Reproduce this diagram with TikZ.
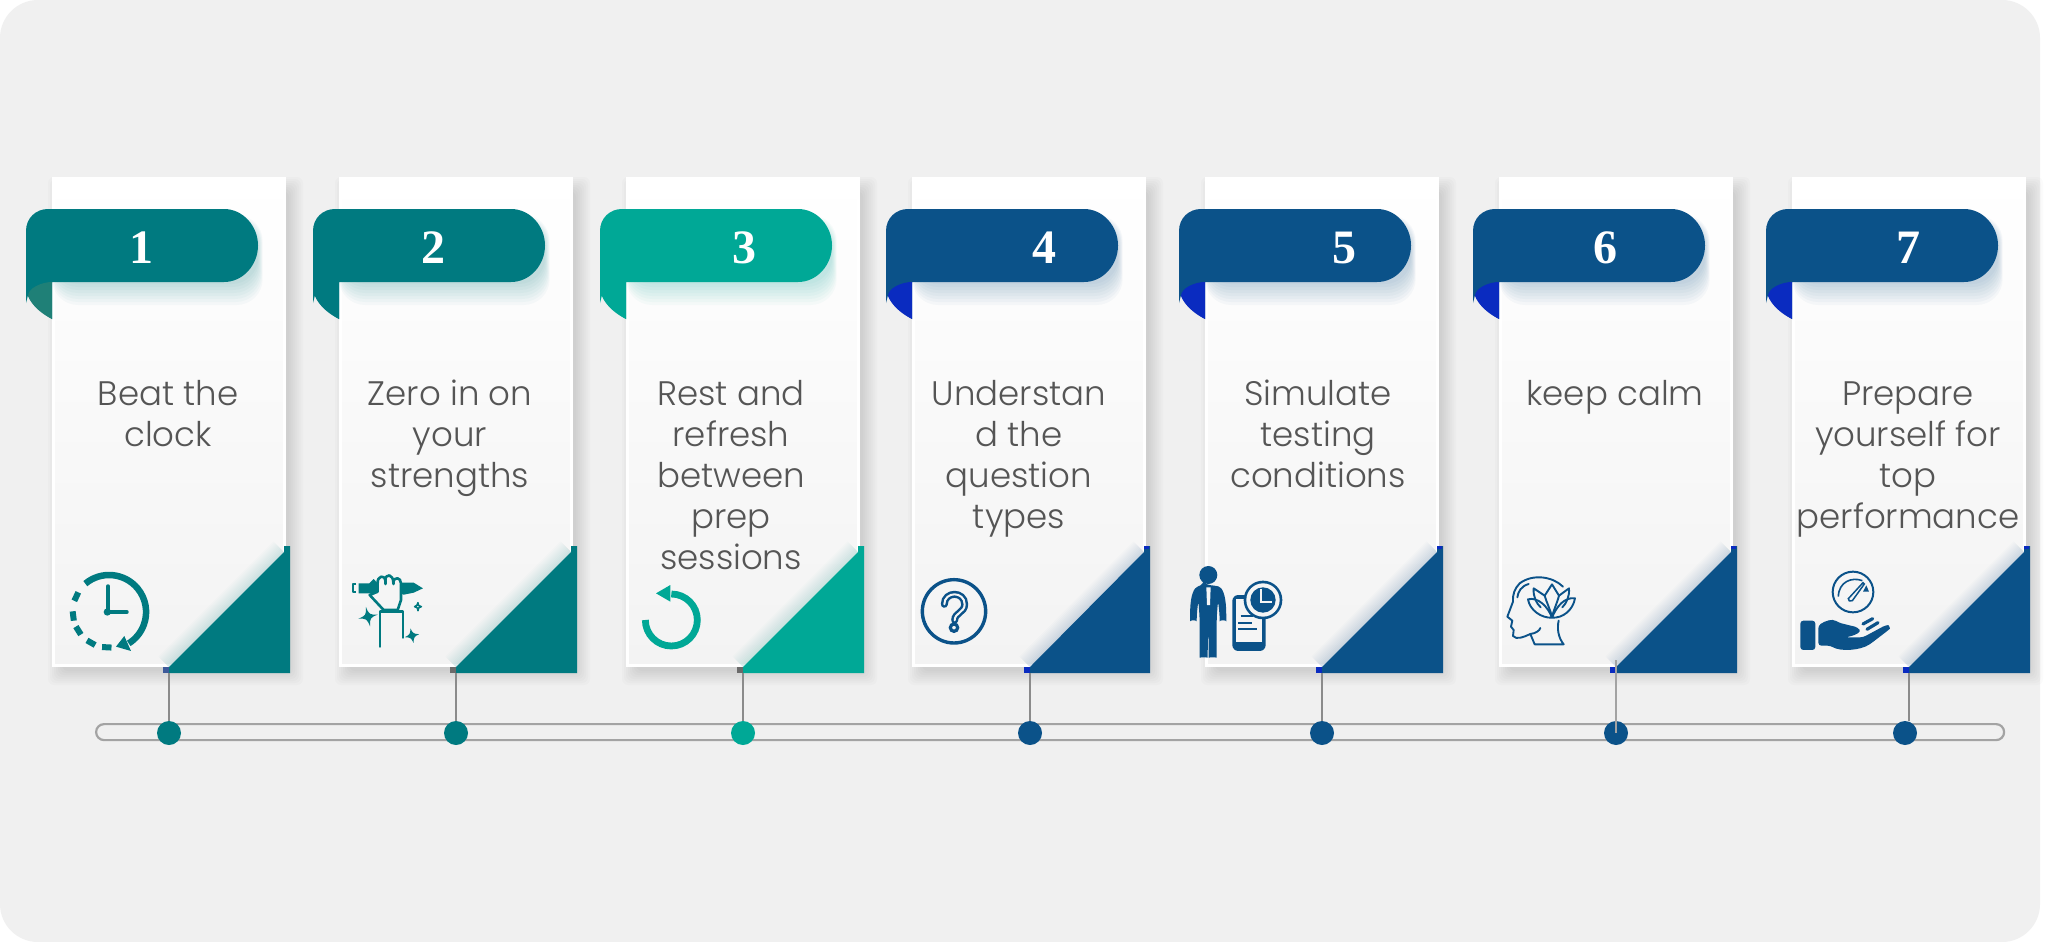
\documentclass[tikz,border=0pt]{standalone}
\usepackage{fontspec}
\setmainfont{Poppins}[UprightFont=* Light]
\newfontfamily\numfont{Liberation Serif}[UprightFont=* Bold]
\definecolor{bgc}{HTML}{F0F0F0}
\definecolor{teal}{HTML}{007A80}
\definecolor{sea}{HTML}{00A896}
\definecolor{navy}{HTML}{0B5289}
\definecolor{foldteal}{HTML}{1F8077}
\definecolor{vivid}{HTML}{0A2BC0}
\definecolor{slatesq}{HTML}{3D5A9A}
\definecolor{graysq}{HTML}{6B6B6B}
\definecolor{txt}{HTML}{555555}
\definecolor{linec}{HTML}{A3A3A3}
\definecolor{iconbg}{HTML}{F5F5F5}
\definecolor{cardlow}{HTML}{F3F3F3}
\tikzset{
  zm/.style 2 args={shift={(#1,#2)},x=.3333pt,y=-.3333pt},
  cardbox/.style={rectangle,draw=white,line width=2.5pt,top color=white,bottom color=cardlow,minimum width=231pt,minimum height=487pt,inner sep=0pt,anchor=north west},
  numlabel/.style={font=\numfont\fontsize{48}{48}\selectfont,text=white,inner sep=0pt},
  stepsub/.style={font=\fontsize{34}{41}\selectfont,text=txt,align=center,anchor=north,inner sep=0pt},
  dotnode/.style={circle,minimum size=24pt,inner sep=0pt},
  ticknode/.style={rectangle,minimum size=0pt,inner sep=0pt},
  conn/.style={draw=linec!85!black,line width=1.2pt},
  thinicon/.style={line cap=round,line join=round},
}
\newcommand{\fourstar}[4]{% cx cy r rot (zoom units)
  \begin{scope}[shift={(#1,#2)},rotate=#4]
  \path[fill,even odd rule] (0,-#3) .. controls (4,-6) and (6,-4) .. (#3,0) .. controls (6,4) and (4,6) .. (0,#3) .. controls (-4,6) and (-6,4) .. (-#3,0) .. controls (-6,-4) and (-4,-6) .. (0,-#3) -- cycle;
  \end{scope}}
\begin{document}
\begin{tikzpicture}[x=1pt,y=-1pt]
\useasboundingbox (0,0) rectangle (2048,942);
\fill[white] (0,0) rectangle (2048,942);
\fill[bgc,rounded corners=38pt] (0,0) rectangle (2040,942);
\node[rectangle,draw=linec,line width=2.2pt,rounded corners=8pt,minimum width=1908pt,minimum height=16pt,inner sep=0pt,anchor=north west] (rail) at (95,723) {};
\foreach \i/\L/\K/\dx/\numx/\tx/\col/\fold/\sq/\label in {
 1/52/169/169/141/168/teal/foldteal/slatesq/{Beat the\\clock},
 2/339/456/456/433/450/teal/teal/graysq/{Zero in on\\your\\strengths},
 3/626/743/743/744/731/sea/sea/graysq/{Rest and\\refresh\\between\\prep\\sessions},
 4/912/1030/1030/1044/1019/navy/vivid/vivid/{Understan\\d the\\question\\types},
 5/1205/1322/1322/1344/1318/navy/vivid/vivid/{Simulate\\testing\\conditions},
 6/1499/1616/1616/1605/1615/navy/vivid/vivid/{keep calm},
 7/1792/1909/1905/1908/1908/navy/vivid/vivid/{Prepare\\yourself for\\top\\performance}}
{
  \pgfmathsetmacro\R{\L+232}
  \pgfmathsetmacro\rl{\L-26}
  \pgfmathsetmacro\rr{\L+206}
  % card shadow
  \foreach \k in {0,2,...,14}{
    \fill[black,fill opacity=.016,rounded corners=6pt] ({\L+10-\k},{177+14-\k}) rectangle ({\R+5+\k},{666+5+\k});
  }
  \node[cardbox] (card\i) at (\L,177) {};
  % soft edge along the diagonal
  \begin{scope}
    \clip (\L,177) rectangle (\R,666);
    \foreach \w in {3,6,...,30}{
      \draw[\col,opacity=.016,line width=\w pt] (\K,667) -- (\R,552);
    }
  \end{scope}
  % corner triangle
  \fill[\sq] ({\K-6},667) rectangle (\K,673);
  \fill[\col] (\R,552) -- (\R,546) -- ({\R+6},546) -- ({\R+6},673) -- (\K,673) -- (\K,667) -- cycle;
  \ifnum\i>3 \fill[\sq] (\R,546) rectangle ({\R+5},549); \fi
  % ribbon shadow
  \foreach \k in {0,2,...,14}{
    \fill[\col,fill opacity=.03,rounded corners=26pt] ({\L},{222-\k/2}) rectangle ({\rr+\k/3},{284+\k*1.5});
  }
  % ribbon
  \fill[\col] (\rl,231) .. controls (\rl,218) and ({\rl+10},209) .. ({\rl+22},209) -- ({\rr-34},209)
     .. controls ({\rr-15},209) and (\rr,226) .. (\rr,245.5) .. controls (\rr,265) and ({\rr-15},282) .. ({\rr-34},282)
     -- (\L,282) -- (\L,319) .. controls ({\L-10},313) and ({\L-20},305) .. ({\rl+2},295) -- (\rl,303) -- cycle;
  \fill[\fold] (\L,282) .. controls ({\L-10},282) and ({\rl+2},288) .. ({\rl+2},296) .. controls ({\rl+6},306) and ({\L-10},314) .. (\L,319) -- cycle;
  \node[numlabel] (num\i) at (\numx,254) {\strut\smash{\i}};
  \node[stepsub] (lbl\i) at (\tx,377) {\rule{0pt}{28pt}\label};
  \node[ticknode] (tick\i) at (\K,673) {};
  \node[dotnode,fill=\col] (dot\i) at (\dx,733) {};
}
\foreach \i in {1,...,5,7}{ \draw[conn] (tick\i) -- (tick\i |- dot\i.north); }
\coordinate (tick6up) at (1616,660);
\draw[conn,linec] (tick6up) -- (dot6.center);

% Icon 1: clock
\begin{scope}[zm={41}{531},teal]
  \draw[line width=6.5pt] (133,158) arc[start angle=130,end angle=-58,radius=111,y radius=-111];
  \fill (250,315) -- (270,360) -- (225,347) -- cycle;
  \foreach \a in {155,187,212,240.5,267}{
    \draw[line width=6pt] ({203+108*cos(\a-7.5)},{242-108*sin(\a-7.5)}) -- ({203+108*cos(\a+7.5)},{242-108*sin(\a+7.5)});
  }
  \draw[line width=3.5pt,line cap=round] (201,165) -- (201,243) -- (258,243);
  \fill (199,243) circle[radius=11];
\end{scope}

% Icon 2: raised hand with brush
\begin{scope}[zm={332}{550},teal,thinicon]
  \draw[line width=2pt,line cap=butt] (72,102) -- (62,102) -- (62,127) -- (72,127);
  \fill (80,100) -- (112,100) -- (125,87) -- (137,100) -- (137,130) -- (80,130) -- cycle;
  \fill (205,98) -- (245,98) -- (273,115) -- (245,128) -- (215,134) -- (205,130) -- cycle;
  \draw[line width=2.6pt,fill=iconbg] (113,135) -- (155,180) -- (197,180) -- (207,150) -- (207,100)
     .. controls (207,82) and (186,78) .. (184,98) .. controls (184,72) and (160,68) .. (160,92)
     .. controls (158,72) and (135,78) .. (137,100) -- (137,125) -- cycle;
  \draw[line width=2.6pt] (160,92) -- (160,102) (184,98) -- (184,102);
  \draw[line width=2.6pt] (144,290) -- (144,185) -- (213,185) -- (213,263);
  \fourstar{108}{200}{30}{12}
  \fourstar{240}{257}{22}{12}
  \draw[line width=1.6pt] (258,158) .. controls (258,166) .. (268,170) .. controls (260,172) .. (258,182) .. controls (256,172) .. (248,170) .. controls (256,166) .. cycle;
\end{scope}

% Icon 3: restart arrow
\begin{scope}[zm={632}{560},sea]
  \draw[line width=6.8pt] (40,180) arc[start angle=180,end angle=450,radius=78,y radius=-78];
  \fill (115,75) -- (72,100) -- (115,125) -- cycle;
\end{scope}

% Icon 4: question mark
\begin{scope}[zm={903}{551},navy]
  \draw[line width=3.4pt] (153,181) circle[radius=95];
  \draw[line width=7pt,line cap=round] (124,160) .. controls (124,120) and (185,120) .. (185,160) .. controls (185,185) and (155,185) .. (155,208);
  \draw[line width=2pt,line cap=round,iconbg] (124,160) .. controls (124,120) and (185,120) .. (185,160) .. controls (185,185) and (155,185) .. (155,208);
  \draw[line width=3.2pt,fill=iconbg] (153,230) circle[radius=11];
\end{scope}

% Icon 5: person with clock and paper
\begin{scope}[zm={1174}{550},navy]
  \fill (103,75) circle[radius=27];
  \fill[rounded corners=6pt] (90,105) -- (116,105) .. controls (145,112) and (155,135) .. (157,196)
     .. controls (157,210) and (137,210) .. (137,196) -- (132,150) -- (128,205) -- (128,305)
     .. controls (128,322) and (104,322) .. (104,305) -- (103,225) -- (101,305)
     .. controls (101,322) and (77,322) .. (77,305) -- (77,205) -- (73,150) -- (68,196)
     .. controls (68,210) and (48,210) .. (48,196) .. controls (50,135) and (60,112) .. (90,105) -- cycle;
  \fill[iconbg] (97,112) -- (110,112) -- (108,165) -- (99,165) -- cycle;
  \fill[rounded corners=6pt] (175,135) rectangle (275,303);
  \fill[iconbg] (187,148) rectangle (264,277);
  \fill (267,150) circle[radius=58];
  \fill[iconbg] (267,150) circle[radius=50];
  \fill (267,150) circle[radius=38];
  \draw[iconbg,line width=2pt] (262,118) -- (262,155) -- (293,155);
  \draw[line width=1.8pt] (200,198) -- (237,198) (192,218) -- (235,218) (192,238) -- (250,238);
\end{scope}

% Icon 6: head with lotus
\begin{scope}[zm={1473}{550},navy,thinicon,line width=1.9pt]
  \draw (270,110) .. controls (240,80) and (180,70) .. (140,100) .. controls (125,115) and (118,135) .. (120,155) -- (103,200) -- (118,212) -- (114,230) -- (122,240) -- (120,258) .. controls (130,270) and (150,262) .. (172,252) .. controls (188,250) and (200,242) .. (202,234);
  \draw (172,252) -- (185,283) -- (272,283) .. controls (255,262) and (252,235) .. (257,212);
  \draw (167,102) .. controls (145,108) and (135,125) .. (133,142);
  \draw (237,103) -- (215,137) .. controls (222,160) and (232,180) .. (237,200) .. controls (242,180) and (252,160) .. (258,137) -- cycle;
  \draw (215,137) -- (182,115) .. controls (180,140) and (190,160) .. (203,172);
  \draw (258,137) -- (288,115) .. controls (290,140) and (280,160) .. (268,172);
  \draw (165,148) .. controls (195,140) and (225,170) .. (237,203) .. controls (250,170) and (275,140) .. (306,145) .. controls (300,180) and (270,205) .. (237,203) .. controls (205,205) and (170,180) .. (165,148) -- cycle;
\end{scope}

% Icon 7: hand and gauge
\begin{scope}[zm={1777}{550},navy]
  \draw[line width=2pt] (228,126) circle[radius=61];
  \draw[line width=1.6pt] (184,140) .. controls (185,95) and (225,80) .. (256,92);
  \draw[line width=1.5pt,fill=iconbg] (214,146) -- (258,98) -- (262,102) -- (226,152) .. controls (220,156) and (212,152) .. (214,146) -- cycle;
  \fill (258,125) -- (268,106) -- (276,125) -- cycle;
  \fill[rounded corners=3pt] (70,212) rectangle (115,300);
  \fill[rounded corners=3pt] (124,226) .. controls (145,213) and (165,205) .. (185,218) -- (242,232) .. controls (252,245) and (240,255) .. (205,262) -- (258,262) -- (325,226) .. controls (335,225) and (340,235) .. (332,242) -- (285,278) .. controls (250,302) and (190,305) .. (160,287) -- (124,287) -- cycle;
  \draw[line width=3.2pt,line cap=round] (258,222) -- (287,206) (270,238) -- (303,218);
\end{scope}
\end{tikzpicture}
\end{document}
